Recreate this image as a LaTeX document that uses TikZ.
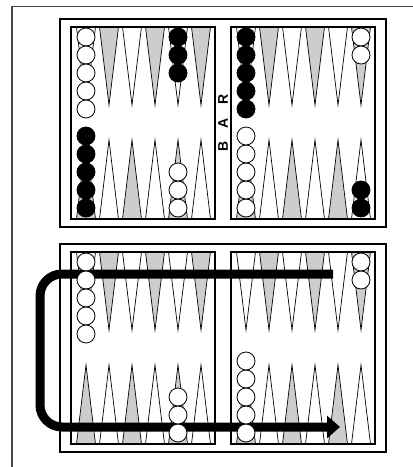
\documentclass[tikz,border=0pt]{standalone}
\usepackage{fontspec}
\newfontfamily\barfont{Liberation Sans}
\usepackage{tikz}
\usetikzlibrary{arrows.meta}
\usepackage{xcolor}
\definecolor{pointgray}{RGB}{205,205,205}
\definecolor{framegray}{RGB}{70,70,70}

\begin{document}
\begin{tikzpicture}[x=1pt,y=-1pt,
  frame/.style={draw=framegray,line width=1.6pt},
  board/.style={draw=black,line width=1.6pt,fill=white},
  half/.style={draw=black,line width=1.2pt},
  pt/.style={draw=black,line width=0.7pt},
  wchk/.style={circle,draw=black,line width=0.8pt,fill=white,
               minimum size=18pt,inner sep=0pt},
  bchk/.style={wchk,fill=black},
  bigarr/.style={line width=9pt,rounded corners=22pt,
                 -{Triangle[length=13pt,width=22pt]}},
]
\useasboundingbox (0,0) rectangle (413,467);

%% ── Page frame ──────────────────────────────────────────────────────────
\draw[frame] (413,6.5) -- (12,6.5) -- (12,467);

%% ── Two boards with their points ────────────────────────────────────────
\foreach \dy in {0,225} {
  \draw[board] (60,19+\dy) rectangle (386,227+\dy);
  \foreach \xo in {71,231} {
    \foreach \i in {0,...,5} {
      \pgfmathtruncatemacro\cx{\xo+15+23*\i}
      \ifodd\i \def\topfill{pointgray}\def\botfill{white}%
      \else \def\topfill{white}\def\botfill{pointgray}\fi
      \draw[pt,fill=\topfill] (\cx-9.5,27+\dy) -- (\cx,105+\dy) -- (\cx+9.5,27+\dy) -- cycle;
      \draw[pt,fill=\botfill] (\cx-9.5,219+\dy) -- (\cx,140+\dy) -- (\cx+9.5,219+\dy) -- cycle;
    }
    \draw[half] (\xo,27+\dy) rectangle (\xo+144,219+\dy);
  }
}

%% ── Bar label ───────────────────────────────────────────────────────────
\node[font=\barfont\bfseries\fontsize{14}{14}\selectfont,rotate=90,inner sep=0pt]
  (bar) at (223,123) {B\hspace{13pt}A\hspace{13pt}R};

%% ── Upper board: checkers ───────────────────────────────────────────────
\foreach \k in {1,...,5} \node[wchk] (uw1\k) at (86,{37+18*(\k-1)}) {};
\foreach \k in {1,...,5} \node[bchk] (ub1\k) at (86,{208-18*(\k-1)}) {};
\foreach \k in {1,...,3} \node[bchk] (ub5\k) at (178,{37+18*(\k-1)}) {};
\foreach \k in {1,...,3} \node[wchk] (uw5\k) at (178,{208-18*(\k-1)}) {};
\foreach \k in {1,...,5} \node[bchk] (ub7\k) at (246,{37+18*(\k-1)}) {};
\foreach \k in {1,...,5} \node[wchk] (uw7\k) at (246,{208-18*(\k-1)}) {};
\foreach \k in {1,2} \node[wchk] (uw12\k) at (361,{37+18*(\k-1)}) {};
\foreach \k in {1,2} \node[bchk] (ub12\k) at (361,{208-18*(\k-1)}) {};

%% ── Lower board: route arrow ────────────────────────────────────────────
\coordinate (runstart) at (333,274);
\coordinate (runend)   at (340,427);
\draw[bigarr] (runstart) -- (40,274) -- (40,427) -- (runend);

%% ── Lower board: checkers ───────────────────────────────────────────────
\foreach \k in {1,...,5} \node[wchk] (lw1\k) at (86,{262+18*(\k-1)}) {};
\foreach \k in {1,...,3} \node[wchk] (lw5\k) at (178,{433-18*(\k-1)}) {};
\foreach \k in {1,...,5} \node[wchk] (lw7\k) at (246,{433-18*(\k-1)}) {};
\foreach \k in {1,2} \node[wchk] (lw12\k) at (361,{262+18*(\k-1)}) {};

\end{tikzpicture}
\end{document}
